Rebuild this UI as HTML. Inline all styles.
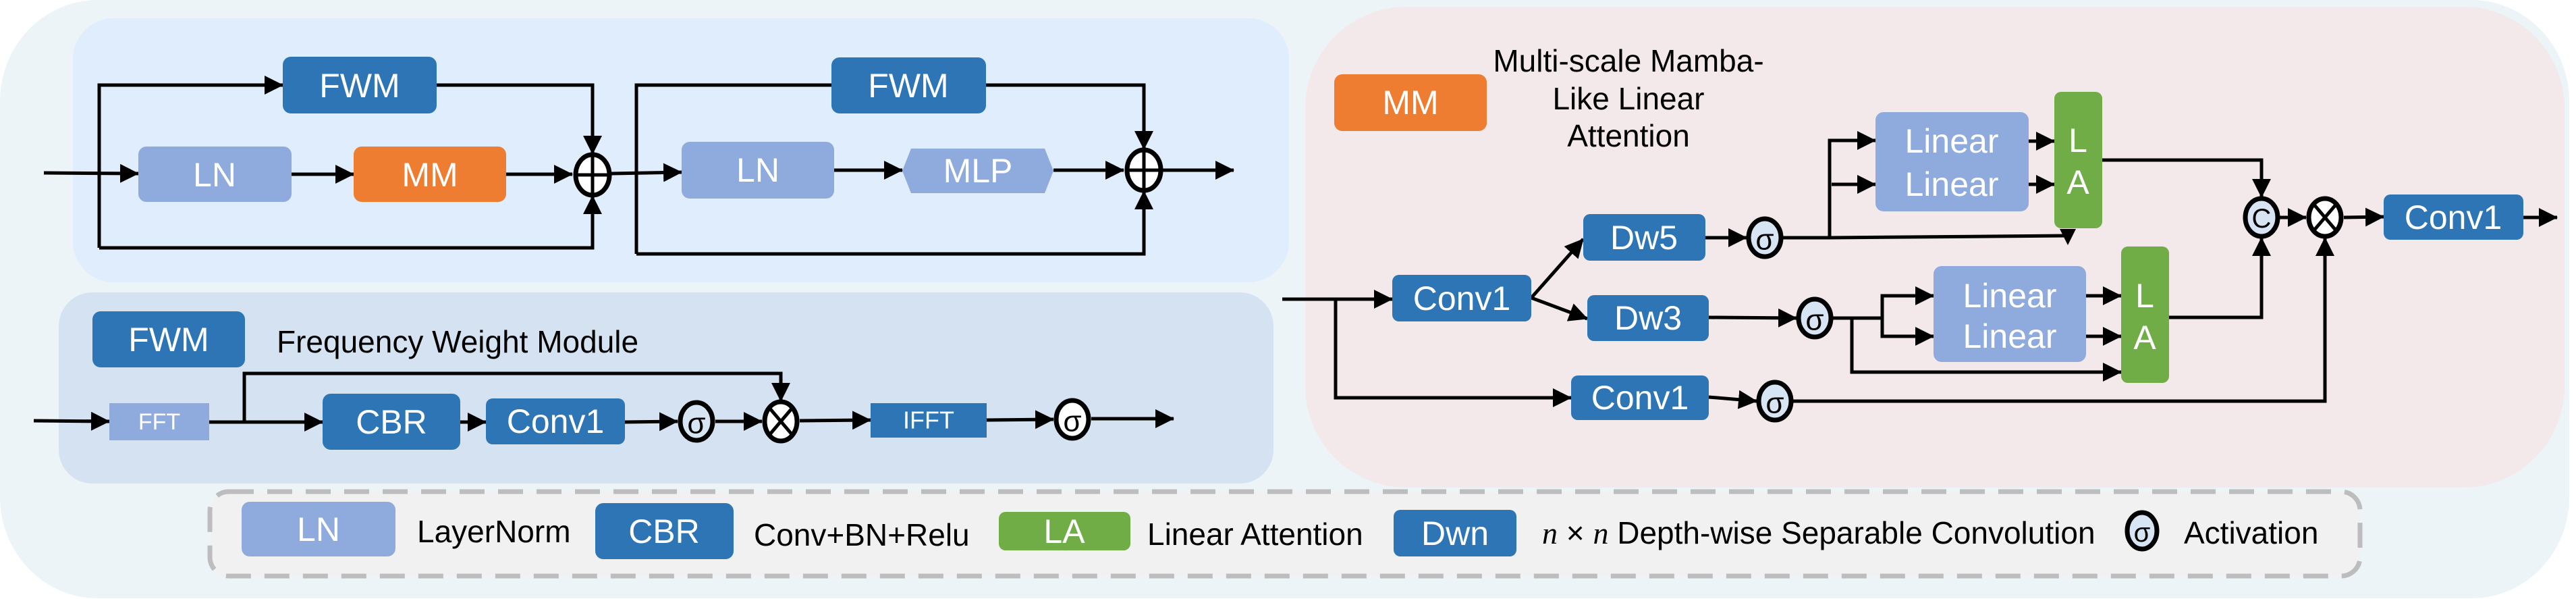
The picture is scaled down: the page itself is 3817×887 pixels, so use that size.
<!DOCTYPE html>
<html><head><meta charset="utf-8"><style>
html,body{margin:0;padding:0;background:#fff;}
svg{display:block;}
text{font-family:"Liberation Sans",Arial,sans-serif;}
.w{fill:#fff;font-size:50px;text-anchor:middle;dominant-baseline:central;}
.b{fill:#000;font-size:46px;dominant-baseline:central;}
.ln{stroke:#000;stroke-width:5;fill:none;}
.sig{fill:#d6e4f4;stroke:#000;stroke-width:7;}
.s{text-anchor:middle;dominant-baseline:central;font-size:44px;}
</style></head><body>
<svg width="3817" height="887" viewBox="0 0 3817 887" xmlns="http://www.w3.org/2000/svg">
<defs>
<marker id="a" markerUnits="userSpaceOnUse" markerWidth="28" markerHeight="28" refX="27" refY="14" orient="auto">
<path d="M0,0 L28,14 L0,28 Z" fill="#000"/></marker>
</defs>
<rect x="0" y="0" width="3807" height="886" rx="145" ry="150" fill="#ecf4f8"/>
<rect x="108" y="27" width="1802" height="391" rx="60" ry="60" fill="#dfedfc"/>
<rect x="87" y="433" width="1800" height="283" rx="50" ry="50" fill="#d4e2f2"/>
<rect x="1934" y="10" width="1866" height="712" rx="150" ry="150" fill="#f3e9ea"/>
<rect x="311" y="728" width="3186" height="125" rx="28" fill="#f1f1f1" stroke="#bdbdbd" stroke-width="7" stroke-dasharray="37 20"/>

<path class="ln" d="M65,256 L205,257" marker-end="url(#a)"/>
<path class="ln" d="M147,367 L147,126 L419,126" marker-end="url(#a)"/>
<path class="ln" d="M147,367 L878,367 L878,290" marker-end="url(#a)"/>
<path class="ln" d="M647,126 L878,126 L878,228" marker-end="url(#a)"/>
<path class="ln" d="M432,258 L524,258" marker-end="url(#a)"/>
<path class="ln" d="M750,258 L848,258" marker-end="url(#a)"/>
<rect x="419" y="84" width="228" height="84" rx="12" fill="#2e75b6"/><text class="w" x="533" y="127">FWM</text>
<rect x="205" y="217" width="227" height="82" rx="12" fill="#8faadc"/><text class="w" x="318" y="259">LN</text>
<rect x="524" y="217" width="226" height="82" rx="12" fill="#ef7d31"/><text class="w" x="637" y="259">MM</text>
<ellipse cx="878" cy="259" rx="25" ry="30" fill="#fff" stroke="#000" stroke-width="7"/>
<path d="M878,229 V289 M853,259 H903" stroke="#000" stroke-width="5"/>
<path class="ln" d="M906,257 L1010,255" marker-end="url(#a)"/>
<path class="ln" d="M943,376 L943,126 L1232,126"/>
<path class="ln" d="M1461,126 L1695,126 L1695,221" marker-end="url(#a)"/>
<path class="ln" d="M943,376 L1695,376 L1695,283" marker-end="url(#a)"/>
<path class="ln" d="M1236,252 L1337,252" marker-end="url(#a)"/>
<path class="ln" d="M1561,252 L1665,252" marker-end="url(#a)"/>
<path class="ln" d="M1722,252 L1828,252" marker-end="url(#a)"/>
<rect x="1232" y="85" width="229" height="83" rx="12" fill="#2e75b6"/><text class="w" x="1346" y="127">FWM</text>
<rect x="1010" y="210" width="226" height="84" rx="12" fill="#8faadc"/><text class="w" x="1123" y="252">LN</text>
<polygon points="1350,220 1548,220 1561,253 1548,286 1350,286 1337,253" fill="#8faadc"/><text class="w" x="1449" y="253">MLP</text>
<ellipse cx="1695" cy="252" rx="25" ry="30" fill="#fff" stroke="#000" stroke-width="7"/>
<path d="M1695,222 V282 M1670,252 H1720" stroke="#000" stroke-width="5"/>

<rect x="137" y="461" width="226" height="83" rx="12" fill="#2e75b6"/><text class="w" x="250" y="503">FWM</text>
<text class="b" x="410" y="506">Frequency Weight Module</text>
<path class="ln" d="M50,623 L162,624" marker-end="url(#a)"/>
<path class="ln" d="M310,625 L478,625" marker-end="url(#a)"/>
<path class="ln" d="M362,625 L362,553 L1157,553 L1157,594" marker-end="url(#a)"/>
<path class="ln" d="M682,625 L720,625" marker-end="url(#a)"/>
<path class="ln" d="M926,625 L1004,624" marker-end="url(#a)"/>
<path class="ln" d="M1060,624 L1129,624" marker-end="url(#a)"/>
<path class="ln" d="M1185,623 L1290,622" marker-end="url(#a)"/>
<path class="ln" d="M1462,622 L1561,621" marker-end="url(#a)"/>
<path class="ln" d="M1617,620 L1739,620" marker-end="url(#a)"/>
<rect x="162" y="597" width="148" height="55" fill="#8faadc"/><text class="w" x="236" y="625" style="font-size:34px">FFT</text>
<rect x="478" y="583" width="204" height="83" rx="12" fill="#2e75b6"/><text class="w" x="580" y="625">CBR</text>
<rect x="720" y="590" width="206" height="68" rx="10" fill="#2e75b6"/><text class="w" x="823" y="624">Conv1</text>
<ellipse class="sig" cx="1032" cy="624" rx="24" ry="28"/><text class="s" x="1032" y="627">σ</text>
<ellipse cx="1157" cy="624" rx="24" ry="29" fill="#fff" stroke="#000" stroke-width="7"/>
<path d="M1140,604 L1174,644 M1174,604 L1140,644" stroke="#000" stroke-width="5"/>
<rect x="1290" y="597" width="172" height="51" fill="#2e75b6"/><text class="w" x="1376" y="622" style="font-size:36px">IFFT</text>
<ellipse class="sig" cx="1589" cy="621" rx="24" ry="28" style="fill:#fff"/><text class="s" x="1589" y="624">σ</text>

<rect x="1977" y="110" width="226" height="84" rx="12" fill="#ef7d31"/><text class="w" x="2090" y="152">MM</text>
<text class="b" x="2413" y="90" text-anchor="middle">Multi-scale Mamba-</text>
<text class="b" x="2413" y="146" text-anchor="middle">Like Linear</text>
<text class="b" x="2413" y="201" text-anchor="middle">Attention</text>

<path class="ln" d="M1900,443 L2063,443" marker-end="url(#a)"/>
<path class="ln" d="M1979,443 L1979,589 L2328,589" marker-end="url(#a)"/>
<path class="ln" d="M2269,441 L2346,354" marker-end="url(#a)"/>
<path class="ln" d="M2269,441 L2352,472" marker-end="url(#a)"/>
<path class="ln" d="M2527,352 L2588,352" marker-end="url(#a)"/>
<path class="ln" d="M2532,470 L2662,471" marker-end="url(#a)"/>
<path class="ln" d="M2532,588 L2603,594" marker-end="url(#a)"/>
<path class="ln" d="M2642,352 L2711,352 L2711,208 L2779,208" marker-end="url(#a)"/>
<path class="ln" d="M2714,273 L2779,273" marker-end="url(#a)"/>
<path class="ln" d="M2711,352 L3063,349"/>
<polygon points="3052,339 3076,339 3064,363" fill="#000"/>
<path class="ln" d="M3006,209 L3044,209" marker-end="url(#a)"/>
<path class="ln" d="M3006,273 L3044,273" marker-end="url(#a)"/>
<path class="ln" d="M2716,471 L2789,471 L2789,438 L2865,438" marker-end="url(#a)"/>
<path class="ln" d="M2789,471 L2789,498 L2865,498" marker-end="url(#a)"/>
<path class="ln" d="M2744,471 L2744,551 L3143,551" marker-end="url(#a)"/>
<path class="ln" d="M3091,438 L3143,438" marker-end="url(#a)"/>
<path class="ln" d="M3091,498 L3143,498" marker-end="url(#a)"/>
<path class="ln" d="M3115,237 L3351,237 L3351,292" marker-end="url(#a)"/>
<path class="ln" d="M3214,470 L3351,470 L3351,352" marker-end="url(#a)"/>
<path class="ln" d="M3377,322 L3417,322" marker-end="url(#a)"/>
<path class="ln" d="M2657,594 L3445,594 L3445,352" marker-end="url(#a)"/>
<path class="ln" d="M3473,322 L3532,321" marker-end="url(#a)"/>
<path class="ln" d="M3739,322 L3789,322" marker-end="url(#a)"/>

<rect x="2063" y="407" width="206" height="69" rx="10" fill="#2e75b6"/><text class="w" x="2166" y="442">Conv1</text>
<rect x="2346" y="317" width="181" height="69" rx="10" fill="#2e75b6"/><text class="w" x="2436" y="352">Dw5</text>
<rect x="2352" y="437" width="180" height="68" rx="10" fill="#2e75b6"/><text class="w" x="2442" y="471">Dw3</text>
<rect x="2328" y="556" width="204" height="66" rx="10" fill="#2e75b6"/><text class="w" x="2430" y="589">Conv1</text>
<ellipse class="sig" cx="2615" cy="352" rx="24" ry="28"/><text class="s" x="2615" y="355">σ</text>
<ellipse class="sig" cx="2689" cy="471" rx="24" ry="28"/><text class="s" x="2689" y="474">σ</text>
<ellipse class="sig" cx="2630" cy="594" rx="24" ry="28"/><text class="s" x="2630" y="597">σ</text>
<rect x="2779" y="166" width="227" height="147" rx="12" fill="#8faadc"/>
<text class="w" x="2892" y="209">Linear</text><text class="w" x="2892" y="273">Linear</text>
<rect x="3044" y="136" width="71" height="202" rx="10" fill="#70ad47"/>
<text class="w" x="3079" y="208">L</text><text class="w" x="3079" y="270">A</text>
<rect x="2865" y="394" width="226" height="142" rx="12" fill="#8faadc"/>
<text class="w" x="2978" y="438">Linear</text><text class="w" x="2978" y="498">Linear</text>
<rect x="3143" y="365" width="71" height="202" rx="10" fill="#70ad47"/>
<text class="w" x="3178" y="438">L</text><text class="w" x="3178" y="500">A</text>
<ellipse class="sig" cx="3351" cy="322" rx="24" ry="28"/><text class="s" x="3351" y="324" style="font-size:40px">C</text>
<ellipse cx="3445" cy="322" rx="24" ry="28" fill="#fff" stroke="#000" stroke-width="7"/>
<path d="M3428,302 L3462,342 M3462,302 L3428,342" stroke="#000" stroke-width="5"/>
<rect x="3532" y="288" width="207" height="67" rx="10" fill="#2e75b6"/><text class="w" x="3635" y="322">Conv1</text>

<rect x="358" y="743" width="228" height="81" rx="12" fill="#8faadc"/><text class="w" x="472" y="784">LN</text>
<text class="b" x="618" y="787">LayerNorm</text>
<rect x="882" y="745" width="205" height="83" rx="12" fill="#2e75b6"/><text class="w" x="984" y="787">CBR</text>
<text class="b" x="1117" y="792">Conv+BN+Relu</text>
<rect x="1480" y="758" width="195" height="57" rx="10" fill="#70ad47"/><text class="w" x="1577" y="787">LA</text>
<text class="b" x="1700" y="791">Linear Attention</text>
<rect x="2065" y="755" width="182" height="69" rx="10" fill="#2e75b6"/><text class="w" x="2156" y="790">Dwn</text>
<text class="b" x="2285" y="789"><tspan font-family="Liberation Serif,serif" font-style="italic">n</tspan> × <tspan font-family="Liberation Serif,serif" font-style="italic">n</tspan> Depth-wise Separable Convolution</text>
<ellipse class="sig" cx="3174" cy="786" rx="22" ry="27"/><text class="s" x="3174" y="789" style="font-size:40px">σ</text>
<text class="b" x="3236" y="789">Activation</text>
</svg>
</body></html>
